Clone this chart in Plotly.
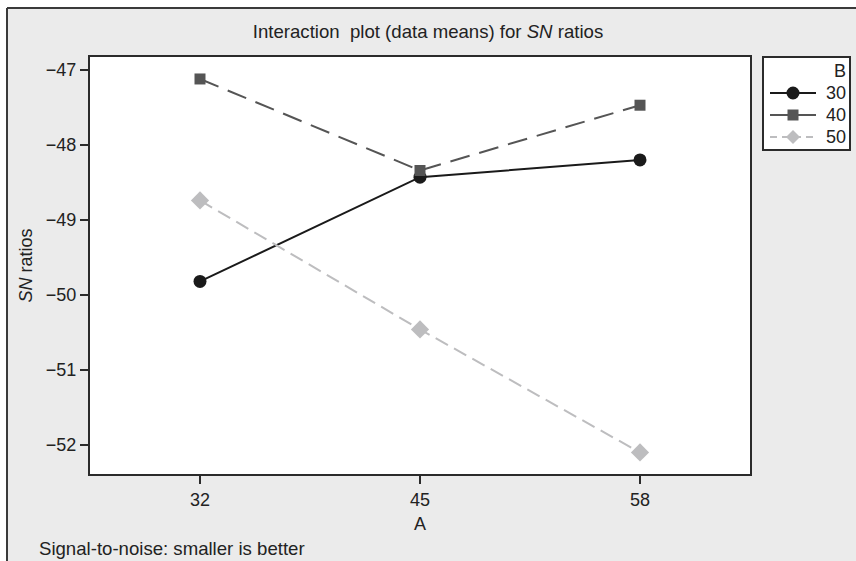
import plotly.graph_objects as go

# Factor A levels and mean SN ratios for each level of factor B
A_levels = [32, 45, 58]
sn_b30 = [-49.82, -48.43, -48.20]
sn_b40 = [-47.12, -48.34, -47.47]
sn_b50 = [-48.74, -50.46, -52.10]
b_labels = ["30", "40", "50"]
y_ticks = [-47, -48, -49, -50, -51, -52]

W, H = 856, 561
L, R, T, B = 90, 106, 57, 87
PW, PH = W - L - R, H - T - B

def px(x):
    return (x - L) / PW

def py(y):
    return (H - B - y) / PH

FONT = "Liberation Sans, Arial, Helvetica, sans-serif"
TXT = "#222222"
AX = "#2b2b2b"

styles = [
    dict(color="#1a1a1a", dash="solid", key_dash="solid", symbol="circle", size=13),
    dict(color="#555555", dash="20px,10px", key_dash="solid", symbol="square", size=11),
    dict(color="#bdbdbf", dash="14px,7px", key_dash="7px,5px", symbol="diamond", size=14),
]

fig = go.Figure()
for ys, lab, st in zip([sn_b30, sn_b40, sn_b50], b_labels, styles):
    fig.add_trace(go.Scatter(
        x=A_levels, y=ys, name=lab, mode="lines+markers",
        line=dict(color=st["color"], width=2, dash=st["dash"]),
        marker=dict(symbol=st["symbol"], size=st["size"], color=st["color"],
                    line=dict(width=0)),
        showlegend=False,
    ))

# page frame: white strip at top/left, grey panel with a dark edge
fig.add_shape(type="rect", xref="paper", yref="paper",
              x0=px(0), x1=px(W), y0=py(0), y1=py(8),
              fillcolor="white", line=dict(width=0), layer="below")
fig.add_shape(type="rect", xref="paper", yref="paper",
              x0=px(0), x1=px(7), y0=py(0), y1=py(H),
              fillcolor="white", line=dict(width=0), layer="below")
fig.add_shape(type="line", xref="paper", yref="paper",
              x0=px(7), x1=px(W + 5), y0=py(8), y1=py(8),
              line=dict(color="#3a3a3a", width=2))
fig.add_shape(type="line", xref="paper", yref="paper",
              x0=px(7), x1=px(7), y0=py(8), y1=py(H + 5),
              line=dict(color="#3a3a3a", width=2))

# legend panel for factor B
fig.add_shape(type="rect", xref="paper", yref="paper",
              x0=px(763), x1=px(850), y0=py(150), y1=py(57),
              fillcolor="white", line=dict(color=AX, width=2))
fig.add_annotation(text="B", xref="paper", yref="paper",
                   x=px(848), y=py(71), xanchor="right", yanchor="middle",
                   showarrow=False, font=dict(family=FONT, size=18, color=TXT))
row_y = [93, 115, 137]
for lab, st, yy in zip(b_labels, styles, row_y):
    fig.add_shape(type="line", xref="paper", yref="paper",
                  x0=px(770), x1=px(816), y0=py(yy), y1=py(yy),
                  line=dict(color=st["color"], width=2, dash=st["key_dash"]))
    cx = 793
    r = st["size"] / 2
    if st["symbol"] == "circle":
        fig.add_shape(type="circle", xref="paper", yref="paper",
                      x0=px(cx - r), x1=px(cx + r), y0=py(yy + r), y1=py(yy - r),
                      fillcolor=st["color"], line=dict(width=0))
    elif st["symbol"] == "square":
        fig.add_shape(type="rect", xref="paper", yref="paper",
                      x0=px(cx - r), x1=px(cx + r), y0=py(yy + r), y1=py(yy - r),
                      fillcolor=st["color"], line=dict(width=0))
    else:
        path = (f"M{px(cx - r)},{py(yy)} L{px(cx)},{py(yy - r)} "
                f"L{px(cx + r)},{py(yy)} L{px(cx)},{py(yy + r)} Z")
        fig.add_shape(type="path", xref="paper", yref="paper", path=path,
                      fillcolor=st["color"], line=dict(width=0))
    fig.add_annotation(text=lab, xref="paper", yref="paper",
                       x=px(848), y=py(yy), xanchor="right", yanchor="middle",
                       showarrow=False, font=dict(family=FONT, size=18, color=TXT))

fig.add_annotation(text="Signal-to-noise: smaller is better",
                   xref="paper", yref="paper", x=px(37), y=py(548),
                   xanchor="left", yanchor="middle", showarrow=False,
                   font=dict(family=FONT, size=18.6, color=TXT))

fig.update_layout(
    width=W, height=H,
    margin=dict(l=L, r=R, t=T, b=B, pad=0),
    paper_bgcolor="#ebebeb", plot_bgcolor="white",
    font=dict(family=FONT, size=18, color=TXT),
    title=dict(text="Interaction\u00a0 plot (data means) for <i>SN</i> ratios",
               x=px(420), xanchor="center", y=1 - 31 / H, yanchor="middle",
               font=dict(family=FONT, size=18.6, color=TXT)),
    xaxis=dict(
        range=[25.5, 64.5], tickvals=A_levels, ticktext=[str(a) for a in A_levels],
        showgrid=False, zeroline=False,
        showline=True, mirror=True, linecolor=AX, linewidth=2,
        ticks="outside", ticklen=8, tickwidth=2, tickcolor=AX,
        tickfont=dict(size=18), title=dict(text="A", standoff=9, font=dict(size=18)),
    ),
    yaxis=dict(
        range=[-52.387, -46.827], tickvals=y_ticks,
        showgrid=False, zeroline=False,
        showline=True, mirror=True, linecolor=AX, linewidth=2,
        ticks="outside", ticklen=8, tickwidth=2, tickcolor=AX,
        tickfont=dict(size=18),
        title=dict(text="<i>SN</i> ratios", standoff=9, font=dict(size=18)),
    ),
)

fig.write_html("out.html")
